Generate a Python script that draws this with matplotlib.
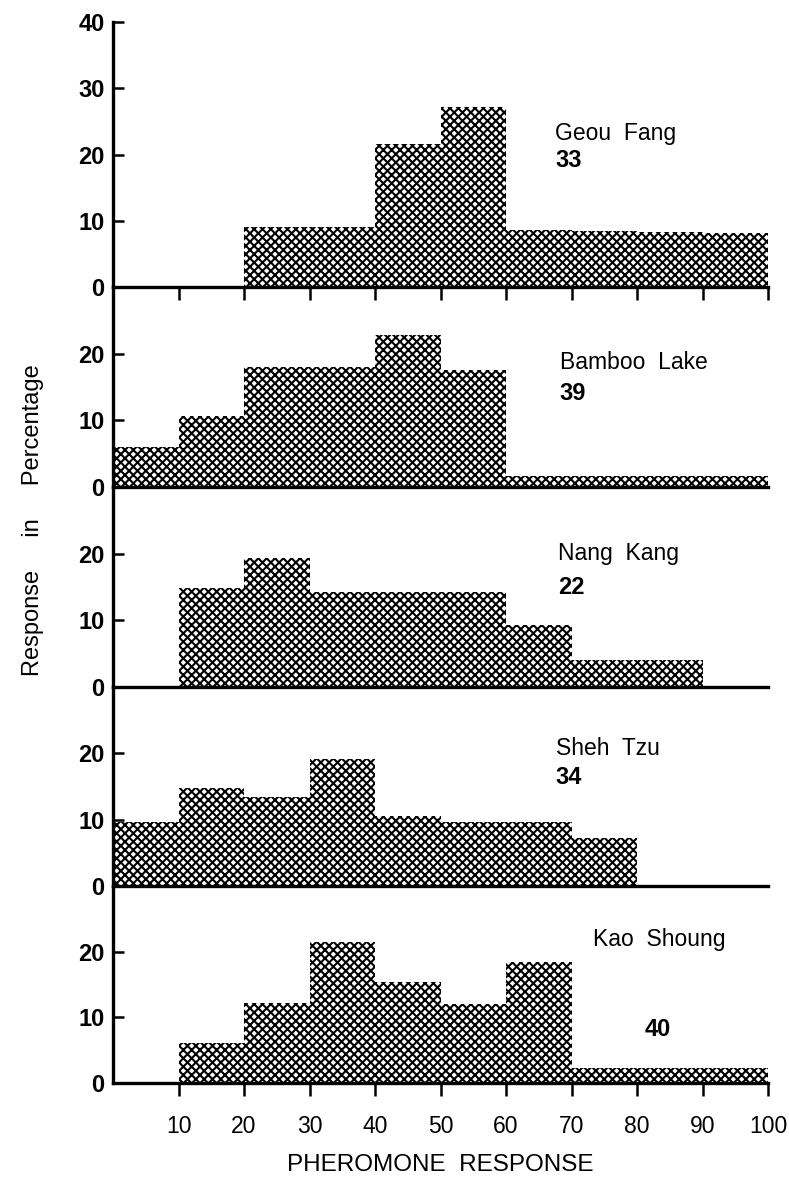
import matplotlib.pyplot as plt
import numpy as np

plt.rcParams['font.family'] = ['Liberation Sans', 'DejaVu Sans']
plt.rcParams['hatch.linewidth'] = 1.5

# bin edges (left) and heights for each site, percent of responders
sites = ['Geou  Fang', 'Bamboo  Lake', 'Nang  Kang', 'Sheh  Tzu', 'Kao  Shoung']
counts = ['33', '39', '22', '34', '40']
bin_lefts = np.arange(0, 100, 10)
geou_fang = [0, 0, 9.0, 9.0, 21.6, 27.1, 8.6, 8.5, 8.3, 8.2]
bamboo_lake = [6.0, 10.7, 18.0, 18.0, 22.8, 17.5, 1.6, 1.6, 1.6, 1.6]
nang_kang = [0, 14.8, 19.3, 14.2, 14.2, 14.2, 9.3, 4.0, 4.0, 0]
sheh_tzu = [9.7, 14.8, 13.4, 19.1, 10.6, 9.6, 9.6, 7.2, 0, 0]
kao_shoung = [0, 6.1, 12.2, 21.5, 15.4, 12.1, 18.4, 2.3, 2.3, 2.3]
series = [geou_fang, bamboo_lake, nang_kang, sheh_tzu, kao_shoung]

W, H = 789, 1184
fig = plt.figure(figsize=(W / 100, H / 100), dpi=100)

left = 113 / W
width = 655 / W
baselines = [287, 487, 687, 886, 1083]
tops = [22, 287, 487, 687, 886]
# (x of name, y of name, x of count, y of count) in data units
label_pos = [(67.5, 23.2, 67.5, 19.1), (68.2, 18.7, 68.2, 14.0),
             (68.0, 20.0, 68.0, 15.0), (67.6, 20.7, 67.6, 16.3),
             (73.3, 21.9, 81.2, 8.2)]

for i, vals in enumerate(series):
    bottom = 1 - baselines[i] / H
    height = (baselines[i] - tops[i]) / H
    ax = fig.add_axes([left, bottom, width, height])
    ymax = 40 if i == 0 else 30
    ax.bar(bin_lefts, vals, width=10, align='edge', facecolor='white',
           edgecolor='black', hatch='xxxx', linewidth=0)
    ax.set_xlim(0, 100)
    ax.set_ylim(0, ymax)
    for s in ['top', 'right']:
        ax.spines[s].set_visible(False)
    ax.spines['left'].set_linewidth(2.4)
    ax.spines['bottom'].set_linewidth(2.4)
    if i == 0:
        ax.set_yticks([0, 10, 20, 30, 40])
    else:
        ax.set_yticks([0, 10, 20])
    ax.tick_params(axis='y', direction='in', length=8, width=1.8,
                   labelsize=17, pad=6)
    for t in ax.get_yticklabels():
        t.set_fontweight('bold')
    if i in (0, 4):
        ax.set_xticks(np.arange(10, 101, 10))
        ax.tick_params(axis='x', direction='out', length=9, width=1.8,
                       labelsize=16.5, pad=14)
    else:
        ax.set_xticks([])
    ax.set_xticklabels([])
    if i == 4:
        ax.set_xticklabels([str(v) for v in range(10, 101, 10)])
    x1, y1, x2, y2 = label_pos[i]
    ax.text(x1, y1, sites[i], fontsize=16.5, ha='left', va='center')
    ax.text(x2, y2, counts[i], fontsize=17, fontweight='bold', ha='left', va='center')
    ax.set_facecolor('none')

fig.text(33 / W, 1 - 520 / H, 'Response     in     Percentage', rotation=90,
         ha='center', va='center', fontsize=17)
fig.text(440 / W, 1 - 1165 / H, 'PHEROMONE  RESPONSE', ha='center', va='center',
         fontsize=17.5)

fig.savefig('out.png', dpi=100)
